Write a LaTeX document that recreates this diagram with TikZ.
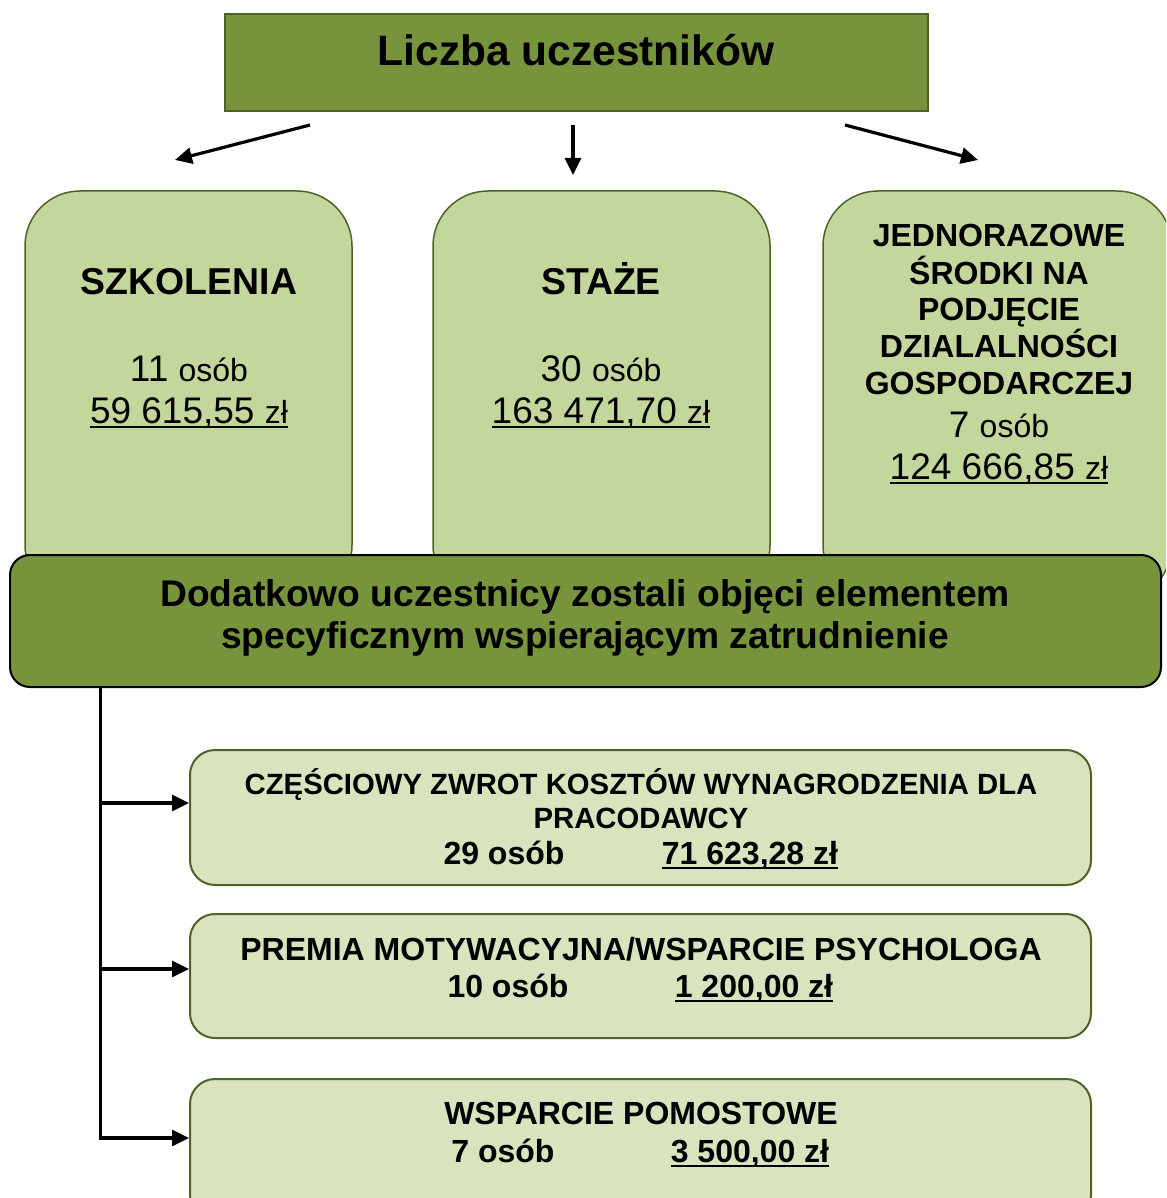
\documentclass[tikz,border=0pt]{standalone}
\usepackage{fontspec}
\setmainfont{Liberation Sans}
\usetikzlibrary{arrows.meta}
\definecolor{cOlive}{HTML}{77933C}
\definecolor{cBorder}{HTML}{4F6228}
\definecolor{cLight}{HTML}{C3D69B}
\definecolor{cPale}{HTML}{D7E4BD}
\newcommand\ulin[1]{\setbox0\hbox{#1}\leavevmode\rlap{\rule[-5pt]{\wd0}{2.5pt}}\box0}
\newcommand\fs[1]{\fontsize{#1pt}{#1pt}\selectfont}
\begin{document}
\begin{tikzpicture}[x=1pt,y=-1pt,
  headbox/.style={draw=cBorder, line width=2pt, fill=cOlive, inner sep=0pt},
  catbox/.style={draw=cBorder, line width=1.5pt, fill=cLight, rounded corners=55pt, inner sep=0pt},
  bandbox/.style={draw=black, line width=2pt, fill=cOlive, rounded corners=20pt, inner sep=0pt},
  subbox/.style={draw=cBorder, line width=2pt, fill=cPale, rounded corners=25pt, inner sep=0pt},
  txt/.style={anchor=base, inner sep=0pt},
  arr/.style={line width=3.2pt, -{Triangle[length=17pt,width=16pt]}}]
\useasboundingbox (0,0) rectangle (1166,1198);
\clip (0,0) rectangle (1166,1198);

% title
\node[headbox, minimum width=703pt, minimum height=97pt] (head) at (576.5,62.5) {};
\node[txt] (headt) at (576,66) {\fs{42.5}\bfseries Liczba uczestników};

% arrows from title
\coordinate (a1s) at (310,125); \coordinate (a1e) at (175,160);
\coordinate (a2s) at (573,125); \coordinate (a2e) at (573,175);
\coordinate (a3s) at (845,125); \coordinate (a3e) at (978,160);
\draw[arr] (a1s) -- (a1e);
\draw[arr] (a2s) -- (a2e);
\draw[arr] (a3s) -- (a3e);

% category boxes
\node[catbox, minimum width=327pt, minimum height=409pt] (szk) at (188.5,395.5) {};
\node[catbox, minimum width=337pt, minimum height=409pt] (sta) at (601.5,395.5) {};
\node[catbox, minimum width=349pt, minimum height=409pt] (jed) at (997.5,395.5) {};

\node[txt] (szk1) at (189,294) {\fs{37.4}\bfseries SZKOLENIA};
\node[txt] (szk2) at (189,381) {\fs{37}11 \fs{32}osób};
\node[txt] (szk3) at (189,423) {\fs{37}\ulin{59 615,55 \fs{32}zł}};

\node[txt] (sta1) at (601,294) {\fs{37.4}\bfseries STAŻE};
\node[txt] (sta2) at (601,381) {\fs{37}30 \fs{32}osób};
\node[txt] (sta3) at (601,423) {\fs{37}\ulin{163 471,70 \fs{32}zł}};

\node[txt] (jed1) at (999,247) {\fs{32}\bfseries JEDNORAZOWE};
\node[txt] (jed2) at (999,284) {\fs{32}\bfseries ŚRODKI NA};
\node[txt] (jed3) at (999,320) {\fs{32}\bfseries PODJĘCIE};
\node[txt] (jed4) at (999,357) {\fs{32}\bfseries DZIALALNOŚCI};
\node[txt] (jed5) at (999,394) {\fs{32}\bfseries GOSPODARCZEJ};
\node[txt] (jed6) at (999,437) {\fs{37}7 \fs{32}osób};
\node[txt] (jed7) at (999,479) {\fs{37}\ulin{124 666,85 \fs{32}zł}};

% band
\node[bandbox, minimum width=1151pt, minimum height=132pt] (band) at (585.5,621) {};
\node[txt] (band1) at (585,606) {\fs{37.2}\bfseries Dodatkowo uczestnicy zostali objęci elementem};
\node[txt] (band2) at (585,648) {\fs{37.2}\bfseries specyficznym wspierającym zatrudnienie};

% sub boxes
\node[subbox, minimum width=901pt, minimum height=135pt] (subA) at (640.5,817.5) {};
\node[subbox, minimum width=901pt, minimum height=124pt] (subB) at (640.5,976) {};
\node[subbox, minimum width=901pt, minimum height=141pt] (subC) at (640.5,1149.5) {};

\node[txt] (subA1) at (641,794) {\fs{29.3}\bfseries CZĘŚCIOWY ZWROT KOSZTÓW WYNAGRODZENIA DLA};
\node[txt] (subA2) at (641,828) {\fs{29.3}\bfseries PRACODAWCY};
\node[txt] (subA3) at (504,864) {\fs{32}\bfseries 29 osób};
\node[txt] (subA4) at (750,864) {\fs{32}\bfseries \ulin{71 623,28 zł}};

\node[txt] (subB1) at (641,960) {\fs{32}\bfseries PREMIA MOTYWACYJNA/WSPARCIE PSYCHOLOGA};
\node[txt] (subB2) at (508,997) {\fs{32}\bfseries 10 osób};
\node[txt] (subB3) at (754,997) {\fs{32}\bfseries \ulin{1 200,00 zł}};

\node[txt] (subC1) at (641,1124) {\fs{32}\bfseries WSPARCIE POMOSTOWE};
\node[txt] (subC2) at (503,1162) {\fs{32}\bfseries 7 osób};
\node[txt] (subC3) at (750,1162) {\fs{32}\bfseries \ulin{3 500,00 zł}};

% trunk and branch arrows
\coordinate (trunk) at (band.south -| 100,0);
\coordinate (bA) at (100,803);
\coordinate (bB) at (100,969);
\coordinate (bC) at (100,1138);
\draw[line width=3pt] (trunk) -- (bC);
\draw[arr] (bA) -- (bA -| subA.west);
\draw[arr] (bB) -- (bB -| subB.west);
\draw[arr] ([xshift=-1.5pt]bC) -- (bC -| subC.west);
\end{tikzpicture}
\end{document}
